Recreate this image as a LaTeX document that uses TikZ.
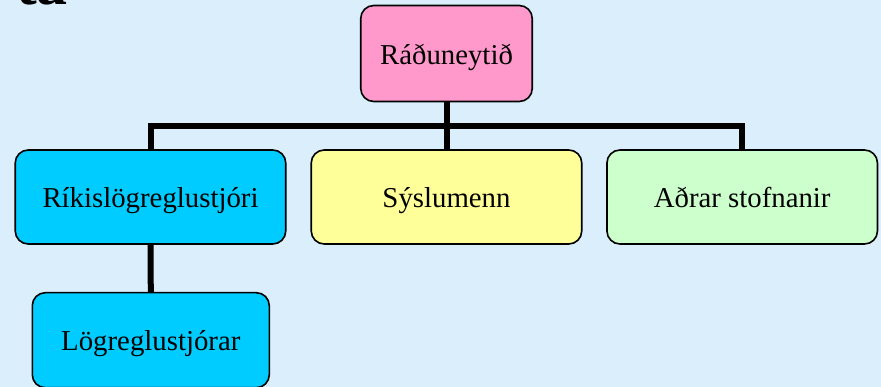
\documentclass[tikz,border=0pt]{standalone}
\usepackage{fontspec}
\setmainfont{Liberation Serif}
\definecolor{bg}{RGB}{218,238,252}
\definecolor{pinkbox}{RGB}{255,153,204}
\definecolor{cyanbox}{RGB}{0,204,255}
\definecolor{yellowbox}{RGB}{255,255,153}
\definecolor{greenbox}{RGB}{204,255,204}
\tikzset{
  orgbox/.style={draw=black, line width=1.6pt, rounded corners=13pt, inner sep=0pt,
    text height=21.5pt, text depth=0pt,
    font=\fontsize{28.8}{34}\selectfont, text=black},
  conn/.style={draw=black, line width=6pt, line join=miter, line cap=butt}
}
\begin{document}
\begin{tikzpicture}[x=1pt,y=-1pt]
\useasboundingbox (0,0) rectangle (881,387);
\clip (0,0) rectangle (881,387);
\fill[bg] (0,0) rectangle (881,387);
% clipped fragment of the slide title
\node[anchor=base east, inner sep=0pt, font=\fontsize{62}{70}\selectfont\bfseries] (title) at (68,4.5) {ta};
% boxes
\node[orgbox, fill=pinkbox, minimum width=171.5pt, minimum height=96pt] (rad) at (446.5,53.5) {Ráðuneytið};
\node[orgbox, fill=cyanbox, minimum width=270.5pt, minimum height=94pt] (rik) at (150.5,197) {Ríkislögreglustjóri};
\node[orgbox, fill=yellowbox, minimum width=270.5pt, minimum height=94pt] (sys) at (446.5,197) {Sýslumenn};
\node[orgbox, fill=greenbox, minimum width=270.5pt, minimum height=94pt] (adr) at (742.2,197) {Aðrar stofnanir};
\node[orgbox, fill=cyanbox, minimum width=237pt, minimum height=95pt] (log) at (150.8,340.2) {Lögreglustjórar};
% connectors
\coordinate (bar) at (446.5,126.5);
\draw[conn] (rik.north) |- (bar) -| (adr.north);
\draw[conn] (rad.south) -- (sys.north);
\draw[conn] (rik.south) -- (log.north);
\end{tikzpicture}
\end{document}
